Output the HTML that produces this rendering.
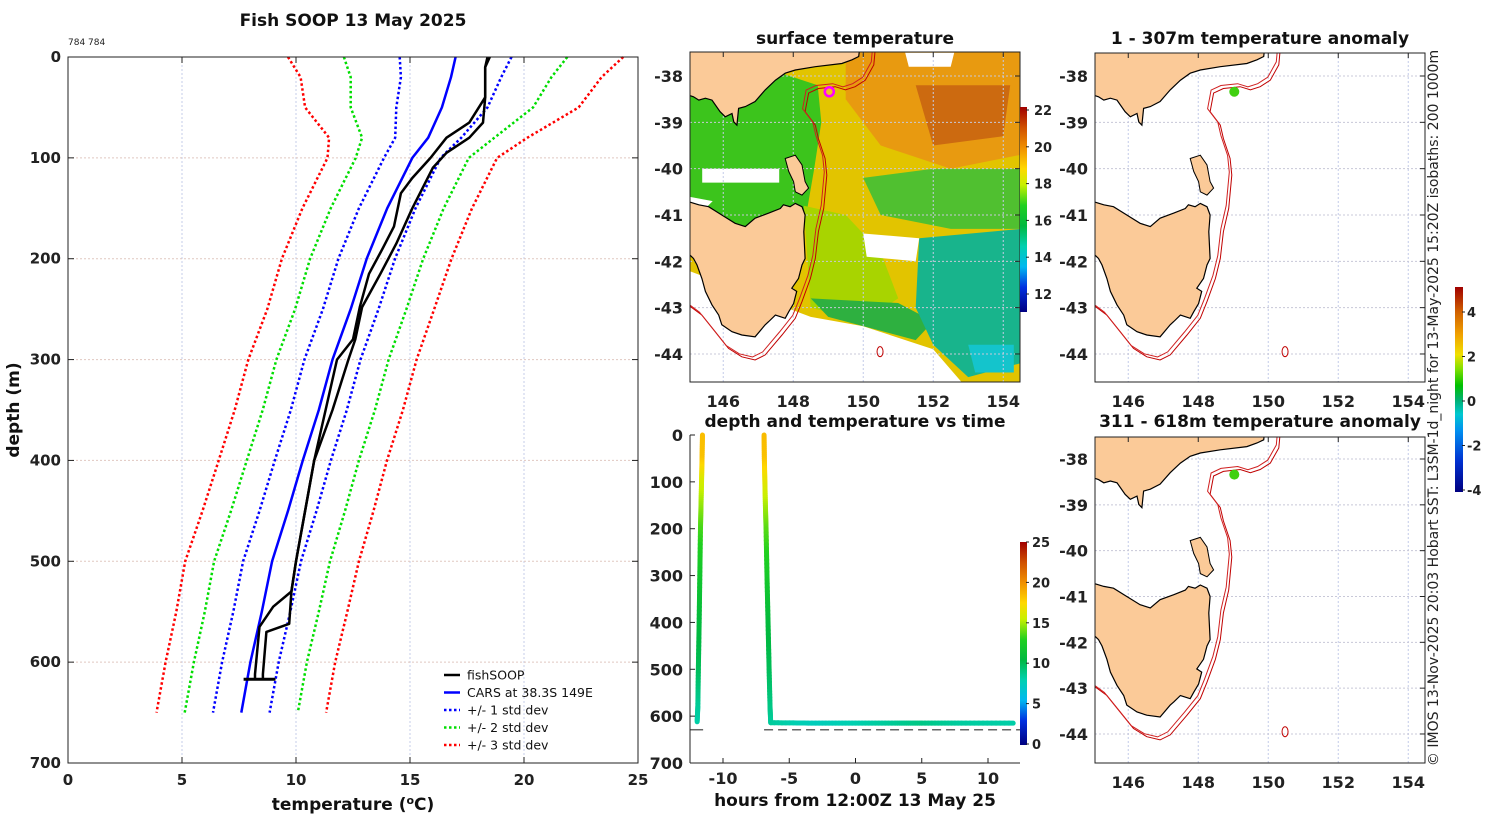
<!DOCTYPE html>
<html><head><meta charset="utf-8">
<style>
html,body{margin:0;padding:0;background:#fff;}
svg{display:block;font-family:"DejaVu Sans","Liberation Sans",sans-serif;}
.tk{font-size:15px;font-weight:bold;fill:#222;}
.ttl{font-size:16px;font-weight:bold;fill:#111;}
</style></head>
<body>
<svg id="fig" width="1500" height="820" viewBox="0 0 1500 820" xmlns="http://www.w3.org/2000/svg">
<defs>
<linearGradient id="cbJet" x1="0" y1="1" x2="0" y2="0">
<stop offset="0" stop-color="#000080"/><stop offset="0.12" stop-color="#0030e0"/><stop offset="0.22" stop-color="#00b8f0"/><stop offset="0.32" stop-color="#00d0b0"/><stop offset="0.42" stop-color="#00b840"/><stop offset="0.52" stop-color="#20d020"/><stop offset="0.62" stop-color="#c8f000"/><stop offset="0.7" stop-color="#ffd800"/><stop offset="0.8" stop-color="#f09000"/><stop offset="0.9" stop-color="#d05000"/><stop offset="1" stop-color="#a00000"/>
</linearGradient>
<linearGradient id="cbAnom" x1="0" y1="1" x2="0" y2="0">
<stop offset="0" stop-color="#000080"/><stop offset="0.15" stop-color="#0030d0"/><stop offset="0.3" stop-color="#0090f0"/><stop offset="0.38" stop-color="#00c8d0"/><stop offset="0.45" stop-color="#00b070"/><stop offset="0.52" stop-color="#00c000"/><stop offset="0.6" stop-color="#80e000"/><stop offset="0.67" stop-color="#f0e000"/><stop offset="0.77" stop-color="#f0a000"/><stop offset="0.88" stop-color="#d06000"/><stop offset="1" stop-color="#a00000"/>
</linearGradient>
</defs>
<g id="root"></g>
</svg>
<script>
// ---------------- profile chart data ----------------
const depthLevels = [0,20,50,80,100,150,200,250,300,350,400,450,500,550,600,650];
const carsMean = [17.0,16.8,16.4,15.8,15.1,14.0,13.1,12.4,11.6,11.0,10.3,9.65,8.95,8.5,8.0,7.6];
const carsStd = [2.45,2.2,2.0,1.45,1.24,1.24,1.24,1.22,1.23,1.23,1.23,1.25,1.27,1.25,1.24,1.24];
const castADepth = [0,10,40,65,80,100,120,135,168,190,215,248,280,300,350,400,450,500,530,545,565,612,617];
const castATemp = [18.4,18.3,18.3,17.6,16.6,15.9,15.1,14.6,14.3,13.8,13.2,12.8,12.5,11.8,11.3,10.8,10.4,10.0,9.8,9.0,8.4,8.2,8.2];
const castBDepth = [0,10,40,65,80,95,110,150,185,215,248,280,300,350,400,450,500,530,562,570,612,617];
const castBTemp = [18.5,18.3,18.3,18.2,17.6,16.6,16.0,15.1,14.4,13.7,12.9,12.6,12.3,11.6,10.8,10.4,10.0,9.8,9.7,8.7,8.55,8.55];
const bottomBarTemp = [7.7,9.1];
const bottomBarDepth = 617;
const tempTicks = [0,5,10,15,20,25];
const depthTicks = [0,100,200,300,400,500,600,700];
// ---------------- time chart data ----------------
const cast1Hours = [-11.55,-11.58,-11.62,-11.66,-11.7,-11.75,-11.8,-11.86,-11.9,-11.95];
const cast1Depth = [0,50,100,150,200,300,400,500,580,612];
const cast1Temp = [18.4,18.3,16.0,14.8,13.6,12.0,10.8,10.0,8.6,8.2];
const cast2Hours = [-6.9,-6.88,-6.84,-6.8,-6.75,-6.68,-6.6,-6.52,-6.45,-6.4,-3,0,3,5,8,11.9];
const cast2Depth = [0,50,100,150,200,300,400,500,580,614,615,615,615,615,615,615];
const cast2Temp = [18.5,18.3,16.6,15.1,13.9,12.3,10.8,10.0,9.0,8.5,7.6,8.0,8.6,9.0,8.4,8.2];
const seafloorDepth = 629;
const hourTicks = [-10,-5,0,5,10];
// ---------------- map data (lon, lat) ----------------
const mainlandLon = [145.0,149.9,149.87,149.68,149.39,148.63,148.06,147.77,147.49,147.2,146.91,146.63,146.44,146.39,146.3,146.25,146.06,145.91,145.68,145.49,145.3,145.15,145.0];
const mainlandLat = [-37.4,-37.4,-37.58,-37.65,-37.73,-37.8,-37.87,-37.94,-38.09,-38.3,-38.55,-38.66,-38.7,-39.06,-38.99,-38.81,-38.88,-38.77,-38.52,-38.48,-38.52,-38.45,-38.41];
const tasLon = [145.0,145.3,145.58,145.96,146.34,146.63,146.91,147.3,147.63,147.72,147.91,148.06,148.25,148.34,148.3,148.34,148.25,148.15,147.96,148.1,148.01,147.87,147.77,147.49,147.3,147.2,146.91,146.53,146.25,145.96,145.87,145.68,145.49,145.39,145.25,145.15,145.0];
const tasLat = [-40.71,-40.78,-40.82,-41.0,-41.18,-41.25,-41.07,-40.96,-40.86,-40.78,-40.82,-40.75,-40.82,-41.0,-41.36,-41.94,-42.08,-42.37,-42.58,-42.65,-42.91,-43.09,-43.23,-43.16,-43.3,-43.37,-43.63,-43.59,-43.52,-43.37,-43.16,-42.94,-42.65,-42.37,-42.08,-41.94,-41.83];
const flindersLon = [147.77,148.06,148.25,148.34,148.44,148.25,148.06,148.01,147.87];
const flindersLat = [-39.78,-39.71,-39.92,-40.28,-40.42,-40.57,-40.5,-40.28,-40.06];
const isoLon = [150.34,150.3,150.06,149.77,149.49,149.2,148.72,148.44,148.34,148.63,148.72,148.91,148.96,148.87,148.72,148.63,148.49,148.25,148.06,147.68,147.2,146.91,146.53,146.15,145.77,145.39,145.0];
const isoLat = [-37.45,-37.76,-38.09,-38.23,-38.3,-38.23,-38.27,-38.37,-38.77,-39.06,-39.35,-39.78,-40.14,-40.86,-41.36,-41.94,-42.37,-42.87,-43.23,-43.59,-44.02,-44.13,-44.06,-43.88,-43.52,-43.16,-42.94];
const shipLon = 149.03, shipLat = -38.34;
const lonTicks = [146,148,150,152,154];
const latTicks = [-38,-39,-40,-41,-42,-43,-44];
// SST patches
const sstColors = ['#e2c400','#3cc41c','#a8d400','#2eb040','#50c030','#18b48c','#14c4cc','#e89a10','#cc6a10','#ffffff','#ffffff','#ffffff','#ffffff','#ffffff'];
const sstLons = [
 [145,154.5,154.5,145],
 [145,147.5,148.7,148.8,148.6,148.3,145],
 [148.3,149.5,150.5,151,150,148.5],
 [148.5,151,152,151.5,149],
 [150,152,154.5,154.5,152.5,150.5],
 [151.6,154.5,154.5,153,152,151.5],
 [153,154.3,154.3,153.2],
 [149.5,154.5,154.5,152.5,150.5,149.5],
 [151.5,154.2,154,152],
 [145,148.5,150,152,152.8,145],
 [145.4,147.6,147.6,145.4],
 [150.0,151.6,151.5,150.1],
 [145,145.7,145.3,145],
 [151.2,152.6,152.5,151.3]
];
const sstLats = [
 [-37.45,-37.45,-44.6,-44.6],
 [-38.4,-37.9,-38.2,-39.0,-40.0,-41.3,-41.3],
 [-40.8,-41.0,-41.8,-42.8,-43.3,-43.0],
 [-42.8,-42.9,-43.3,-43.7,-43.2],
 [-40.2,-40.0,-40.0,-41.3,-41.3,-41.0],
 [-41.5,-41.3,-44.2,-44.5,-43.8,-43.0],
 [-43.8,-43.8,-44.4,-44.4],
 [-37.45,-37.45,-39.7,-40.0,-39.5,-38.5],
 [-38.2,-38.2,-39.3,-39.5],
 [-42.2,-43.2,-43.4,-43.9,-44.6,-44.6],
 [-40.0,-40.0,-40.3,-40.3],
 [-41.4,-41.5,-42.0,-41.9],
 [-40.6,-40.7,-41.0,-40.95],
 [-37.5,-37.5,-37.8,-37.8]
];

const NS='http://www.w3.org/2000/svg';
const root=document.getElementById('root');
function el(tag,attrs,parent){const e=document.createElementNS(NS,tag);for(const k in attrs)e.setAttribute(k,attrs[k]);(parent||root).appendChild(e);return e;}
function txt(x,y,s,cls,anchor,parent,style){const t=el('text',{x:x,y:y,'class':cls||'tk','text-anchor':anchor||'middle'},parent);if(style)t.setAttribute('style',style);t.textContent=s;return t;}

const jetStops=[[0,[0,0,128]],[0.12,[0,48,224]],[0.22,[0,184,240]],[0.32,[0,208,176]],[0.42,[0,184,64]],[0.52,[32,208,32]],[0.62,[200,240,0]],[0.7,[255,216,0]],[0.8,[240,144,0]],[0.9,[208,80,0]],[1,[160,0,0]]];
function cmap(f){f=Math.max(0,Math.min(1,f));for(let i=1;i<jetStops.length;i++){if(f<=jetStops[i][0]){const a=jetStops[i-1],b=jetStops[i];const u=(f-a[0])/(b[0]-a[0]);const c=a[1].map((v,j)=>Math.round(v+(b[1][j]-v)*u));return 'rgb('+c.join(',')+')';}}return 'rgb(160,0,0)';}

// ============ PROFILE CHART ============
const P={x0:68,x1:638,y0:57,y1:763};
const X=t=>P.x0+t/25*(P.x1-P.x0);
const Y=d=>P.y0+d/700*(P.y1-P.y0);
const gProf=el('g',{});


el('rect',{x:P.x0,y:P.y0,width:P.x1-P.x0,height:P.y1-P.y0,fill:'#fff'},gProf);
tempTicks.forEach(t=>{if(t>0&&t<25)el('line',{x1:X(t),y1:P.y0,x2:X(t),y2:P.y1,stroke:'#c4cce8','stroke-dasharray':'2,2','stroke-width':1},gProf);});
depthTicks.forEach(d=>{if(d>0&&d<700)el('line',{x1:P.x0,y1:Y(d),x2:P.x1,y2:Y(d),stroke:'#e0c8c0','stroke-dasharray':'2,2','stroke-width':1},gProf);});
function profLine(temps,depths,color,w,dash,name){
 const pts=temps.map((t,i)=>X(t).toFixed(1)+','+Y(depths[i]).toFixed(1)).join(' ');
 const p=el('polyline',{points:pts,fill:'none',stroke:color,'stroke-width':w,'stroke-linejoin':'round'},gProf);
 if(dash)p.setAttribute('stroke-dasharray',dash);
 
 
}
const sdCols=['#0000ff','#00dd00','#ff0000'];
[1,2,3].forEach(k=>{
 profLine(carsMean.map((m,i)=>m-k*carsStd[i]),depthLevels,sdCols[k-1],2.5,'2.5,2.5','std-'+k+'-lower');
 profLine(carsMean.map((m,i)=>m+k*carsStd[i]),depthLevels,sdCols[k-1],2.5,'2.5,2.5','std-'+k+'-upper');
});
profLine(carsMean,depthLevels,'#0000ff',2.5,null,'cars-mean-line');
profLine(castATemp,castADepth,'#000',2.5,null,'fishsoop-cast-a');
profLine(castBTemp,castBDepth,'#000',2.5,null,'fishsoop-cast-b');
profLine(bottomBarTemp,[bottomBarDepth,bottomBarDepth],'#000',3,null,'fishsoop-bottom-bar');
el('rect',{x:P.x0,y:P.y0,width:P.x1-P.x0,height:P.y1-P.y0,fill:'none',stroke:'#222','stroke-width':1},gProf);
tempTicks.forEach(t=>{el('line',{x1:X(t),y1:P.y1,x2:X(t),y2:P.y1-6,stroke:'#222'},gProf);el('line',{x1:X(t),y1:P.y0,x2:X(t),y2:P.y0+6,stroke:'#222'},gProf);const l=txt(X(t),P.y1+22,String(t),'tk','middle',gProf);});
depthTicks.forEach(d=>{el('line',{x1:P.x0,y1:Y(d),x2:P.x0+6,y2:Y(d),stroke:'#222'},gProf);el('line',{x1:P.x1,y1:Y(d),x2:P.x1-6,y2:Y(d),stroke:'#222'},gProf);const l=txt(P.x0-7,Y(d)+5,String(d),'tk','end',gProf);});
const legItems=[['fishSOOP','#000',null],['CARS at 38.3S 149E','#0000ff',null],['+/- 1 std dev','#0000ff','2.5,2.5'],['+/- 2 std dev','#00dd00','2.5,2.5'],['+/- 3 std dev','#ff0000','2.5,2.5']];
const gLeg=el('g',{},gProf);


legItems.forEach((it,i)=>{const y=675+i*17.5;const ln=el('line',{x1:444,y1:y,x2:460,y2:y,stroke:it[1],'stroke-width':2.5},gLeg);if(it[2])ln.setAttribute('stroke-dasharray',it[2]);const t=el('text',{x:467,y:y+4.5,'font-size':'12.5px',fill:'#111'},gLeg);t.textContent=it[0];});

// ============ TIME CHART ============
const T={x0:690,x1:1020,y0:435,y1:763};
const H=h=>855.5+h*13.25;
const TY=d=>T.y0+d/700*(T.y1-T.y0);
const gTime=el('g',{});


el('line',{x1:T.x0,y1:TY(seafloorDepth),x2:H(-11.5),y2:TY(seafloorDepth),stroke:'#666','stroke-width':1.5},gTime);
el('line',{x1:H(-6.9),y1:TY(seafloorDepth),x2:T.x1,y2:TY(seafloorDepth),stroke:'#666','stroke-width':1.5,'stroke-dasharray':'9,5'},gTime);
function trace(hrs,dep,tmp,name){
 const g=el('g',{},gTime);
 
 
 for(let i=1;i<hrs.length;i++){
  const n=12;
  for(let k=0;k<n;k++){
   const u0=k/n,u1=(k+1)/n;
   const t=tmp[i-1]+(tmp[i]-tmp[i-1])*(u0+u1)/2;
   el('line',{x1:H(hrs[i-1]+(hrs[i]-hrs[i-1])*u0),y1:TY(dep[i-1]+(dep[i]-dep[i-1])*u0),x2:H(hrs[i-1]+(hrs[i]-hrs[i-1])*u1),y2:TY(dep[i-1]+(dep[i]-dep[i-1])*u1),stroke:cmap(t/25),'stroke-width':5,'stroke-linecap':'round'},g);
  }
 }
}
trace(cast1Hours,cast1Depth,cast1Temp,'cast-1-trace');
trace(cast2Hours,cast2Depth,cast2Temp,'cast-2-trace');
el('line',{x1:T.x0,y1:T.y0,x2:T.x0,y2:T.y1,stroke:'#222'},gTime);
el('line',{x1:T.x0,y1:T.y1,x2:T.x1,y2:T.y1,stroke:'#222'},gTime);
depthTicks.forEach(d=>{el('line',{x1:T.x0,y1:TY(d),x2:T.x0+5,y2:TY(d),stroke:'#222'},gTime);txt(T.x0-7,TY(d)+6,String(d),'tk','end',gTime,'font-size:16px');});
hourTicks.forEach(h=>{el('line',{x1:H(h),y1:T.y1,x2:H(h),y2:T.y1-5,stroke:'#222'},gTime);txt(H(h),T.y1+21,String(h),'tk','middle',gTime,'font-size:16px');});
txt(855,806,'hours from 12:00Z 13 May 25','ttl','middle',gTime,'font-size:17px');
el('rect',{x:1020,y:542,width:7,height:203,fill:'url(#cbJet)'},gTime);
[0,5,10,15,20,25].forEach(v=>{const y=744-v*8.08;el('line',{x1:1026,y1:y,x2:1029,y2:y,stroke:'#222'});txt(1032,y+5,String(v),'tk','start',null,'font-size:13px');});

// ============ MAPS ============
function makeMap(name,x0,y0,w,h,latRefY,pxLat,withSST,dotColor){
 const lonX=lon=>x0+(lon-145.05)*35;
 const latY=lat=>latRefY+(-38-lat)*pxLat;
 const g=el('g',{});
 
 
 const cid='clip'+name;
 const cp=el('clipPath',{id:cid},g);el('rect',{x:x0,y:y0,width:w,height:h},cp);
 const inner=el('g',{'clip-path':'url(#'+cid+')'},g);
 el('rect',{x:x0,y:y0,width:w,height:h,fill:'#fff'},inner);
 const poly=(lons,lats,attrs,nm)=>{const p=el('polygon',Object.assign({points:lons.map((l,i)=>lonX(l).toFixed(1)+','+latY(lats[i]).toFixed(1)).join(' ')},attrs),inner);return p;};
 if(withSST){sstColors.forEach((c,i)=>poly(sstLons[i],sstLats[i],{fill:c},'sst-patch'));}
 lonTicks.forEach(l=>el('line',{x1:lonX(l),y1:y0,x2:lonX(l),y2:y0+h,stroke:'#c4cce8','stroke-dasharray':'2,2'},inner));
 latTicks.forEach(l=>el('line',{x1:x0,y1:latY(l),x2:x0+w,y2:latY(l),stroke:'#c8c8d8','stroke-dasharray':'2,2'},inner));
 poly(mainlandLon,mainlandLat,{fill:'#fbca98',stroke:'#000','stroke-width':1.2},'mainland');
 poly(tasLon,tasLat,{fill:'#fbca98',stroke:'#000','stroke-width':1.2},'tasmania');
 poly(flindersLon,flindersLat,{fill:'#fbca98',stroke:'#000','stroke-width':1},'flinders-island');
 [0,1].forEach(j=>{const p=el('polyline',{points:isoLon.map((l,i)=>(lonX(l)-(j?2.5:0)).toFixed(1)+','+(latY(isoLat[i])-(j?3:0)).toFixed(1)).join(' '),fill:'none',stroke:j?'#d02020':'#c00000','stroke-width':1},inner);});
 el('ellipse',{cx:lonX(150.48),cy:latY(-43.95),rx:3,ry:5,fill:'none',stroke:'#c00000','stroke-width':1},inner);
 const dot=el('circle',{cx:lonX(shipLon),cy:latY(shipLat),r:withSST?4.5:5,fill:dotColor,stroke:withSST?'#ff00ff':'none','stroke-width':2.5},inner);
 
 
 el('rect',{x:x0,y:y0,width:w,height:h,fill:'none',stroke:'#222'},g);
 latTicks.forEach(l=>{const y=latY(l);if(y>y0&&y<y0+h){el('line',{x1:x0+w,y1:y,x2:x0+w-5,y2:y,stroke:'#222'},g);txt(x0-7,y+6,String(l),'tk','end',g,'font-size:16px');}});
 lonTicks.forEach(l=>{el('line',{x1:lonX(l),y1:y0,x2:lonX(l),y2:y0+5,stroke:'#222'},g);txt(lonX(l),y0+h+25,String(l),'tk','middle',g,'font-size:16px');});
}
makeMap('sst-map',690,52,330,330,76,46.33,true,'#f0c020');
makeMap('anomaly-map-upper',1095,53,330,329,76,46.33,false,'#40d010');
makeMap('anomaly-map-lower',1095,437,330,326,459,45.83,false,'#40d010');
el('rect',{x:1020,y:107,width:7,height:205,fill:'url(#cbJet)'});
[22,20,18,16,14,12].forEach(v=>{const y=110+(22-v)*18.4;el('line',{x1:1026,y1:y,x2:1029,y2:y,stroke:'#222'});txt(1034,y+5,String(v),'tk','start',null,'font-size:13px');});
el('rect',{x:1455,y:287,width:8,height:205,fill:'url(#cbAnom)'});
[4,2,0,-2,-4].forEach(v=>{const y=401-v*22.25;el('line',{x1:1462,y1:y,x2:1465,y2:y,stroke:'#222'});txt(1467,y+5,String(v),'tk','start',null,'font-size:13px');});

// titles
txt(353,26,'Fish SOOP 13 May 2025','ttl','middle',null,'font-size:17px');
txt(68,45,'784 784','tk','start',null,'font-size:9px;font-weight:normal');
txt(855,44,'surface temperature','ttl','middle',null,'font-size:17px');
txt(1260,44,'1 - 307m temperature anomaly','ttl','middle',null,'font-size:17px');
txt(855,427,'depth and temperature vs time','ttl','middle',null,'font-size:17px');
txt(1260,427,'311 - 618m temperature anomaly','ttl','middle',null,'font-size:17px');
const yt=txt(0,0,'depth (m)','ttl','middle',null,'font-size:17px');yt.setAttribute('transform','translate(19,410) rotate(-90)');
const xt=el('text',{x:353,y:810,'class':'ttl','text-anchor':'middle',style:'font-size:17px'});


xt.innerHTML='temperature (<tspan dy="-6" style="font-size:11px">o</tspan><tspan dy="6">C)</tspan>';
const cr=txt(0,0,'© IMOS 13-Nov-2025 20:03 Hobart SST: L3SM-1d_night for 13-May-2025 15:20Z isobaths: 200  1000m','tk','middle',null,'font-size:14px;font-weight:normal');
cr.setAttribute('transform','translate(1438,408) rotate(-90)');


</script>
</body></html>
